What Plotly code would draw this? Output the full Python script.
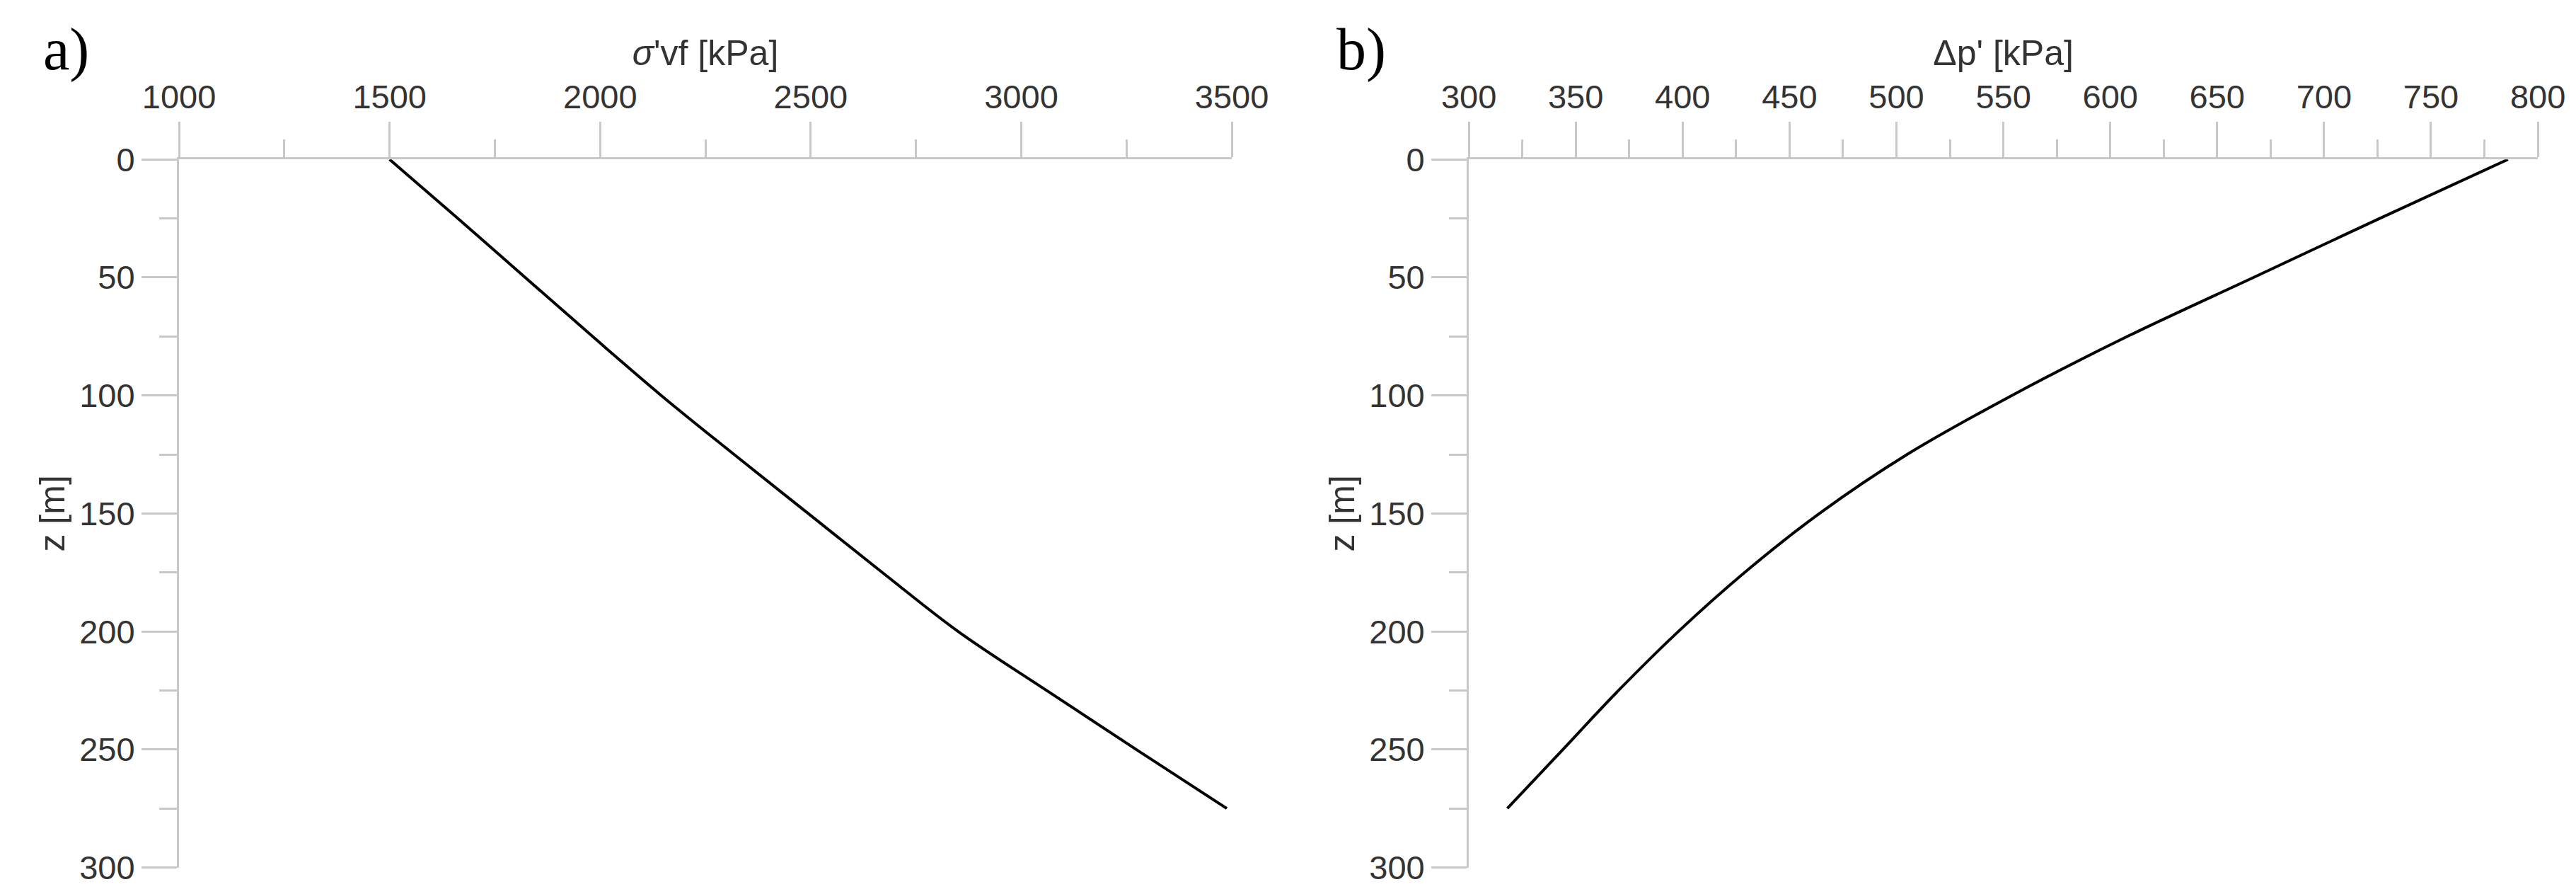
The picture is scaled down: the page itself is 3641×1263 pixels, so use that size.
import plotly.graph_objects as go

# depth z [m]
z = [0, 25, 50, 75, 100, 125, 150, 175, 200, 225, 250, 275]
# panel a: sigma'vf [kPa]
sigma_vf = [1500, 1662, 1822, 1982, 2145, 2318, 2494, 2670, 2850, 3060, 3273, 3488]
# panel b: delta p' [kPa]
delta_p = [786, 726, 667, 608, 554, 505, 464, 429, 398, 370, 344, 318]

AX = "#c8c8c8"
TXT = "#333333"
tickfont = dict(family="Liberation Sans, Arial", size=47, color=TXT)
titlefont = dict(family="Liberation Sans, Arial", size=50, color=TXT)

fig = go.Figure()
fig.add_trace(go.Scatter(x=sigma_vf, y=z, mode="lines", line=dict(color="black", width=4, shape="spline"),
                         xaxis="x", yaxis="y", showlegend=False))
fig.add_trace(go.Scatter(x=delta_p, y=z, mode="lines", line=dict(color="black", width=4, shape="spline"),
                         xaxis="x2", yaxis="y2", showlegend=False))

def xax(dom, rng, dt, mdt, title, anchor):
    return dict(domain=dom, range=rng, side="top", anchor=anchor, dtick=dt, tick0=rng[0],
                automargin=False, showgrid=False, zeroline=False, showline=True, linecolor=AX, linewidth=3,
                ticks="outside", ticklen=50, tickwidth=3, tickcolor=AX, tickfont=tickfont,
                minor=dict(ticks="outside", ticklen=25, tickwidth=3, tickcolor=AX, dtick=mdt),
                title=dict(text=title, font=titlefont, standoff=2))

def yax(anchor):
    return dict(domain=[0.036, 0.828], range=[300, 0], anchor=anchor, dtick=50,
                automargin=False, showgrid=False, zeroline=False, showline=True, linecolor=AX, linewidth=3,
                ticks="outside", ticklen=50, tickwidth=3, tickcolor=AX, tickfont=tickfont,
                minor=dict(ticks="outside", ticklen=25, tickwidth=3, tickcolor=AX, dtick=25),
                title=dict(text="z [m]", font=titlefont, standoff=5))

fig.update_layout(
    width=3641, height=1263, margin=dict(l=0, r=0, t=0, b=0),
    paper_bgcolor="white", plot_bgcolor="white",
    xaxis=xax([0.0673, 0.476], [1000, 3500], 500, 250, "<i>σ</i>'vf [kPa]", "y"),
    yaxis=yax("x"),
    xaxis2=xax([0.568, 0.983], [300, 800], 50, 25, "Δp' [kPa]", "y2"),
    yaxis2=yax("x2"),
    annotations=[
        dict(text="a)", x=0.014, y=0.99, xref="paper", yref="paper", xanchor="left", yanchor="top",
             showarrow=False, font=dict(family="Liberation Serif, Times New Roman", size=84, color="black")),
        dict(text="b)", x=0.516, y=0.99, xref="paper", yref="paper", xanchor="left", yanchor="top",
             showarrow=False, font=dict(family="Liberation Serif, Times New Roman", size=84, color="black")),
    ],
)

fig.write_html("out.html")
